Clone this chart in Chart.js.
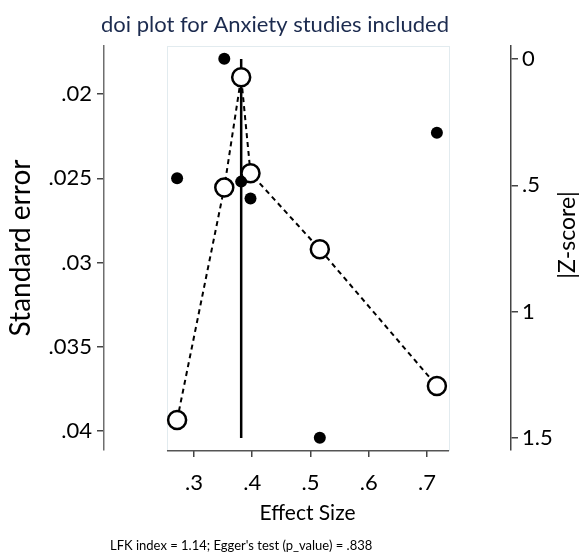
<!DOCTYPE html>
<html>
<head>
<meta charset="utf-8">
<script src="https://cdn.jsdelivr.net/npm/chart.js@4.4.0/dist/chart.umd.min.js"></script>
<style>
  html, body { margin: 0; padding: 0; background: #ffffff; }
  #wrap { width: 585px; height: 553px; position: relative; }
</style>
</head>
<body>
<div id="wrap"><canvas id="c" width="585" height="553"></canvas></div>
<script>
// Study-level results (sorted by effect size)
const effectSize = [0.271, 0.352, 0.381, 0.397, 0.516, 0.717];
const stdError   = [0.0250, 0.0179, 0.0252, 0.0262, 0.0404, 0.0223];
const absZScore  = [1.429, 0.509, 0.072, 0.452, 0.753, 1.294];

// Reference line at the most precise study's effect, spanning |Z| 0 to 1.5
const midEffect = 0.381;
const midLineZ  = [0, 1.5];

// Tick labels
const effectTicks = [0.3, 0.4, 0.5, 0.6, 0.7];
const seTicks     = [0.02, 0.025, 0.03, 0.035, 0.04];
const zTicks      = [0, 0.5, 1, 1.5];

const titleText = 'doi plot for Anxiety studies included';
const noteText  = "LFK index = 1.14; Egger's test (p_value) = .838";

// Axis ranges
const X_MIN = 0.1455, X_MAX = 0.8442;         // full width between the two y axes
const FRAME_MIN = 0.2536, FRAME_MAX = 0.7378; // plot region on the x scale
const SE_MIN = 0.01715, SE_MAX = 0.04113;
const Z_MIN = -0.0515, Z_MAX = 1.5475;

const FONT = 'Lato';
const fmt = v => String(+(+v).toFixed(4)).replace(/^0\./, '.');
const fixedTicks = list => scale => { scale.ticks = list.map(v => ({ value: v })); };

const sePoints = effectSize.map((x, i) => ({ x, y: stdError[i] }));
const zPoints  = effectSize.map((x, i) => ({ x, y: absZScore[i] }));
const midLine  = midLineZ.map(z => ({ x: midEffect, y: z }));

const decorations = {
  id: 'decorations',
  beforeDatasetsDraw(chart) {
    const { ctx, chartArea: ca, scales } = chart;
    const l = scales.x.getPixelForValue(FRAME_MIN);
    const r = scales.x.getPixelForValue(FRAME_MAX);
    ctx.save();
    ctx.strokeStyle = '#e2ebef';
    ctx.lineWidth = 1;
    ctx.strokeRect(Math.round(l) + 0.5, ca.top + 0.5, Math.round(r - l), ca.bottom - ca.top);
    ctx.strokeStyle = '#555555';
    ctx.lineWidth = 1.5;
    ctx.beginPath();
    ctx.moveTo(l, ca.bottom + 0.75);
    ctx.lineTo(r, ca.bottom + 0.75);
    ctx.stroke();
    ctx.restore();
  },
  afterDraw(chart) {
    const { ctx } = chart;
    ctx.save();
    ctx.fillStyle = '#1c2b4f';
    ctx.font = `22px ${FONT}`;
    ctx.textAlign = 'center';
    ctx.textBaseline = 'alphabetic';
    ctx.fillText(titleText, 275, 32);

    ctx.fillStyle = '#000000';
    ctx.font = `13px ${FONT}`;
    ctx.textAlign = 'left';
    ctx.fillText(noteText, 110, 550);

    ctx.translate(568, 235);
    ctx.rotate(-Math.PI / 2);
    ctx.font = `23px ${FONT}`;
    ctx.textAlign = 'center';
    ctx.textBaseline = 'middle';
    ctx.fillText('|Z-score|', 0, 0);
    ctx.restore();
  }
};

new Chart(document.getElementById('c'), {
  type: 'scatter',
  data: {
    datasets: [
      {
        label: 'Standard error',
        data: sePoints,
        yAxisID: 'ySE',
        order: 1,
        pointRadius: 6,
        pointHoverRadius: 6,
        pointBackgroundColor: '#000000',
        pointBorderColor: '#000000',
        pointBorderWidth: 0,
        showLine: false
      },
      {
        label: '|Z-score|',
        data: zPoints,
        yAxisID: 'yZ',
        order: 2,
        showLine: true,
        borderColor: '#000000',
        borderWidth: 2,
        borderDash: [5, 4],
        pointRadius: 9,
        pointHoverRadius: 9,
        pointBackgroundColor: '#ffffff',
        pointBorderColor: '#000000',
        pointBorderWidth: 2.5
      },
      {
        label: 'midline',
        data: midLine,
        yAxisID: 'yZ',
        order: 3,
        showLine: true,
        borderColor: '#000000',
        borderWidth: 2.5,
        pointRadius: 0
      }
    ]
  },
  options: {
    responsive: false,
    animation: false,
    devicePixelRatio: 1,
    layout: { padding: { top: 46, left: 0, right: 0, bottom: 0 } },
    plugins: { legend: { display: false }, tooltip: { enabled: false }, title: { display: false } },
    scales: {
      x: {
        type: 'linear',
        position: 'bottom',
        min: X_MIN, max: X_MAX,
        afterBuildTicks: fixedTicks(effectTicks),
        afterFit: s => { s.height = 103; },
        border: { display: false },
        grid: { display: true, drawOnChartArea: false, drawTicks: true, tickLength: 7, color: '#444444', lineWidth: 1.5 },
        ticks: { callback: v => fmt(v), color: '#000000', font: { family: FONT, size: 22 }, padding: 13, maxRotation: 0, autoSkip: false },
        title: { display: true, text: 'Effect Size', color: '#000000', font: { family: FONT, size: 21 }, padding: { top: 0, bottom: 27 } }
      },
      ySE: {
        type: 'linear',
        position: 'left',
        reverse: true,
        min: SE_MIN, max: SE_MAX,
        afterBuildTicks: fixedTicks(seTicks),
        afterFit: s => { s.width = 104; },
        border: { display: true, color: '#6e6e6e', width: 1.5 },
        grid: { display: true, drawOnChartArea: false, drawTicks: true, tickLength: 7, color: '#444444', lineWidth: 1.5 },
        ticks: { callback: v => fmt(v), color: '#000000', font: { family: FONT, size: 22 }, padding: 5, autoSkip: false },
        title: { display: true, text: 'Standard error', color: '#000000', font: { family: FONT, size: 28 }, padding: { top: 4, bottom: 0 } }
      },
      yZ: {
        type: 'linear',
        position: 'right',
        reverse: true,
        min: Z_MIN, max: Z_MAX,
        afterBuildTicks: fixedTicks(zTicks),
        afterFit: s => { s.width = 74; },
        border: { display: true, color: '#444444', width: 1.5 },
        grid: { display: true, drawOnChartArea: false, drawTicks: true, tickLength: 7, color: '#444444', lineWidth: 1.5 },
        ticks: { callback: v => fmt(v), color: '#000000', font: { family: FONT, size: 22 }, padding: 4, autoSkip: false },
        title: { display: false }
      }
    }
  },
  plugins: [decorations]
});
</script>
</body>
</html>
